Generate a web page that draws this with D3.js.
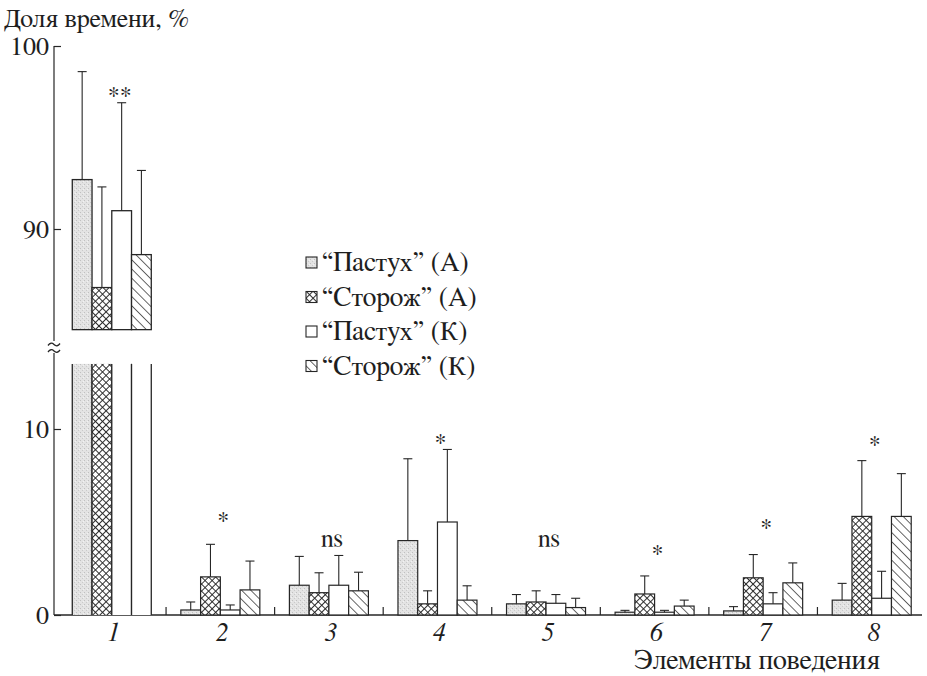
<!DOCTYPE html>
<html>
<head>
<meta charset="utf-8">
<script src="https://cdn.jsdelivr.net/npm/d3@7"></script>
<style>
  html, body { margin: 0; padding: 0; background: #fff; }
  svg { display: block; }
  text { font-family: FreeSerif, Times, "Noto Serif", serif; fill: #1e1e1e; }
</style>
</head>
<body>
<svg id="chart" width="927" height="676"></svg>
<script>
// Behaviour elements on the x axis
const groups = ["1", "2", "3", "4", "5", "6", "7", "8"];

// Series names (legend)
const seriesNames = ["\u201CПастух\u201D (А)", "\u201CСторож\u201D (А)", "\u201CПастух\u201D (К)", "\u201CСторож\u201D (К)"];

// Mean share of time, %
const pastukhA = [92.7, 0.27, 1.6, 4.0, 0.6, 0.15, 0.22, 0.8];
const storozhA = [86.8, 2.05, 1.2, 0.6, 0.7, 1.13, 2.0, 5.3];
const pastukhK = [91.0, 0.27, 1.6, 5.0, 0.63, 0.15, 0.6, 0.9];
const storozhK = [88.6, 1.35, 1.3, 0.8, 0.4, 0.48, 1.73, 5.3];

// Standard deviations
const sdPastukhA = [5.9, 0.43, 1.55, 4.4, 0.5, 0.1, 0.23, 0.9];
const sdStorozhA = [5.5, 1.75, 1.07, 0.7, 0.6, 0.97, 1.25, 3.0];
const sdPastukhK = [5.9, 0.27, 1.6, 3.9, 0.47, 0.1, 0.6, 1.45];
const sdStorozhK = [4.6, 1.55, 1.0, 0.77, 0.5, 0.32, 1.07, 2.3];

// Significance marks and the value level they are written at
const sigMarks = ["**", "*", "ns", "*", "ns", "*", "*", "*"];
const sigAt = [97.6, 5.4, 4.1, 9.6, 4.1, 3.6, 5.0, 9.5];

// Axis ticks of the two panels
const upperTicks = [90, 100];
const lowerTicks = [0, 10];

const means = [pastukhA, storozhA, pastukhK, storozhK];
const sds = [sdPastukhA, sdStorozhA, sdPastukhK, sdStorozhK];
const fills = ["url(#stipple)", "url(#cross)", "#ffffff", "url(#hatch)"];

const serif = "FreeSerif, Times, 'Noto Serif', serif";
const svg = d3.select("#chart").attr("font-family", serif);
const ink = "#262626";

// ---- fill patterns ----
const defs = svg.append("defs");
const stip = defs.append("pattern").attr("id", "stipple")
  .attr("patternUnits", "userSpaceOnUse").attr("width", 4).attr("height", 4);
stip.append("rect").attr("width", 4).attr("height", 4).attr("fill", "#e3e3e3");
stip.append("rect").attr("x", 0).attr("y", 0).attr("width", 1).attr("height", 1).attr("fill", "#c0c0c0");
stip.append("rect").attr("x", 2).attr("y", 2).attr("width", 1).attr("height", 1).attr("fill", "#cacaca");
stip.append("rect").attr("x", 3).attr("y", 1).attr("width", 1).attr("height", 1).attr("fill", "#f2f2f2");

const cross = defs.append("pattern").attr("id", "cross")
  .attr("patternUnits", "userSpaceOnUse").attr("width", 5).attr("height", 5)
  .attr("patternTransform", "rotate(45)");
cross.append("rect").attr("width", 5).attr("height", 5).attr("fill", "#fff");
cross.append("line").attr("x1", 0).attr("y1", 0).attr("x2", 5).attr("y2", 0)
  .attr("stroke", ink).attr("stroke-width", 1.9);
cross.append("line").attr("x1", 0).attr("y1", 0).attr("x2", 0).attr("y2", 5)
  .attr("stroke", ink).attr("stroke-width", 1.9);

const hatch = defs.append("pattern").attr("id", "hatch")
  .attr("patternUnits", "userSpaceOnUse").attr("width", 6.5).attr("height", 6.5)
  .attr("patternTransform", "rotate(-45)");
hatch.append("rect").attr("width", 6.5).attr("height", 6.5).attr("fill", "#fff");
hatch.append("line").attr("x1", 0).attr("y1", 0).attr("x2", 0).attr("y2", 6.5)
  .attr("stroke", ink).attr("stroke-width", 1.4);

// ---- scales ----
const axisX = 54;
const x = d3.scaleBand().domain(groups).range([57.5, 926]);
const groupW = 79;
const xs = d3.scaleBand().domain(d3.range(4)).range([0, groupW]);
const barX = (g, i) => x(g) + (x.bandwidth() - groupW) / 2 + xs(i);

const yUp = d3.scaleLinear().domain([90, 100]).range([229, 46]);
const yLo = d3.scaleLinear().domain([0, 10]).range([615, 429]);
const upperBase = 84.5;   // lower edge of the upper panel
const lowerTop = 13.5;    // upper edge of the lower panel

// ---- axes ----
const upAxis = d3.axisLeft(yUp).tickValues(upperTicks).tickSize(-7).tickPadding(5).tickSizeOuter(0);
const loAxis = d3.axisLeft(yLo).tickValues(lowerTicks).tickSize(-7).tickPadding(5).tickSizeOuter(0);

function styleAxis(gAx) {
  gAx.attr("font-family", serif);
  gAx.select(".domain").remove();
  gAx.selectAll(".tick line").attr("stroke", ink).attr("stroke-width", 1.2);
  gAx.selectAll(".tick text").attr("font-size", 26).attr("fill", "#1e1e1e");
}
svg.append("g").attr("transform", `translate(${axisX},0)`).call(upAxis).call(styleAxis);
svg.append("g").attr("transform", `translate(${axisX},0)`).call(loAxis).call(styleAxis);

// vertical axis segments with the break mark
svg.append("line").attr("x1", axisX).attr("x2", axisX)
  .attr("y1", yUp(100)).attr("y2", 341).attr("stroke", ink).attr("stroke-width", 1.2);
svg.append("line").attr("x1", axisX).attr("x2", axisX)
  .attr("y1", 353).attr("y2", yLo(0)).attr("stroke", ink).attr("stroke-width", 1.2);
[344.5, 351].forEach(yy => {
  svg.append("path")
    .attr("d", `M${axisX - 6},${yy + 1} q3,-4 6,-1 t6,-1`)
    .attr("fill", "none").attr("stroke", ink).attr("stroke-width", 1.3);
});

// horizontal axis with separators between groups
svg.append("line").attr("x1", axisX).attr("x2", 922)
  .attr("y1", yLo(0)).attr("y2", yLo(0)).attr("stroke", ink).attr("stroke-width", 1.3);
svg.append("g").selectAll("line").data(groups.slice(1)).join("line")
  .attr("x1", d => x(d)).attr("x2", d => x(d))
  .attr("y1", yLo(0)).attr("y2", yLo(0) - 8)
  .attr("stroke", ink).attr("stroke-width", 1.2);

// group numbers
svg.append("g").selectAll("text").data(groups).join("text")
  .attr("x", d => x(d) + x.bandwidth() / 2 + 2)
  .attr("y", 641)
  .attr("text-anchor", "middle")
  .attr("font-size", 26).attr("font-style", "italic")
  .text(d => d);

// axis titles
svg.append("text").attr("x", 4).attr("y", 27).attr("font-size", 26).text("Доля времени, %");
svg.append("text").attr("x", 880).attr("y", 669).attr("text-anchor", "end")
  .attr("font-size", 28).text("Элементы поведения");

// ---- bars ----
const barsG = svg.append("g");
means.forEach((arr, i) => {
  groups.forEach((g, gi) => {
    const v = arr[gi];
    const bx = barX(g, i);
    const bw = xs.bandwidth();
    if (gi === 0) {
      // upper panel part
      barsG.append("rect")
        .attr("x", bx).attr("y", yUp(v))
        .attr("width", bw).attr("height", yUp(upperBase) - yUp(v))
        .attr("fill", fills[i]).attr("stroke", ink).attr("stroke-width", 1.3);
      // continuation in the lower panel, open at the top
      barsG.append("rect")
        .attr("x", bx).attr("y", yLo(lowerTop))
        .attr("width", bw).attr("height", yLo(0) - yLo(lowerTop))
        .attr("fill", i < 2 ? fills[i] : "#fff");
      [bx, bx + bw].forEach(xx => barsG.append("line")
        .attr("x1", xx).attr("x2", xx).attr("y1", yLo(lowerTop)).attr("y2", yLo(0))
        .attr("stroke", ink).attr("stroke-width", 1.3));
    } else {
      barsG.append("rect")
        .attr("x", bx).attr("y", yLo(v))
        .attr("width", bw).attr("height", yLo(0) - yLo(v))
        .attr("fill", fills[i]).attr("stroke", ink).attr("stroke-width", 1.2);
    }
  });
});

// ---- error bars ----
const errG = svg.append("g").attr("stroke", ink).attr("stroke-width", 1.1);
means.forEach((arr, i) => {
  groups.forEach((g, gi) => {
    const ys = gi === 0 ? yUp : yLo;
    const cx = barX(g, i) + xs.bandwidth() / 2;
    const y0 = ys(arr[gi]);
    const y1 = ys(arr[gi] + sds[i][gi]);
    errG.append("line").attr("x1", cx).attr("x2", cx).attr("y1", y0).attr("y2", y1);
    errG.append("line").attr("x1", cx - 4.5).attr("x2", cx + 4.5).attr("y1", y1).attr("y2", y1);
  });
});

// ---- significance marks ----
svg.append("g").selectAll("text").data(groups).join("text")
  .attr("x", (d, gi) => x(d) + x.bandwidth() / 2 + (gi === 0 ? 8 : 3))
  .attr("y", (d, gi) => (gi === 0 ? yUp(sigAt[gi]) : yLo(sigAt[gi])))
  .attr("text-anchor", "middle")
  .attr("font-size", (d, gi) => sigMarks[gi] === "ns" ? 26 : 24)
  .attr("fill", (d, gi) => sigMarks[gi] === "ns" ? "#2a2a2a" : "#6a6a6a")
  .attr("dy", (d, gi) => sigMarks[gi] === "ns" ? "0.3em" : "0.55em")
  .text((d, gi) => sigMarks[gi]);

// ---- legend ----
const leg = svg.append("g").attr("transform", "translate(306,263)");
seriesNames.forEach((name, i) => {
  const row = leg.append("g").attr("transform", `translate(0,${i * 34.5})`);
  row.append("rect").attr("x", 0).attr("y", -6).attr("width", 11).attr("height", 11)
    .attr("fill", fills[i]).attr("stroke", ink).attr("stroke-width", 1.1);
  row.append("text").attr("x", 16).attr("y", 8).attr("font-size", 27.5).text(name);
});
</script>
</body>
</html>
